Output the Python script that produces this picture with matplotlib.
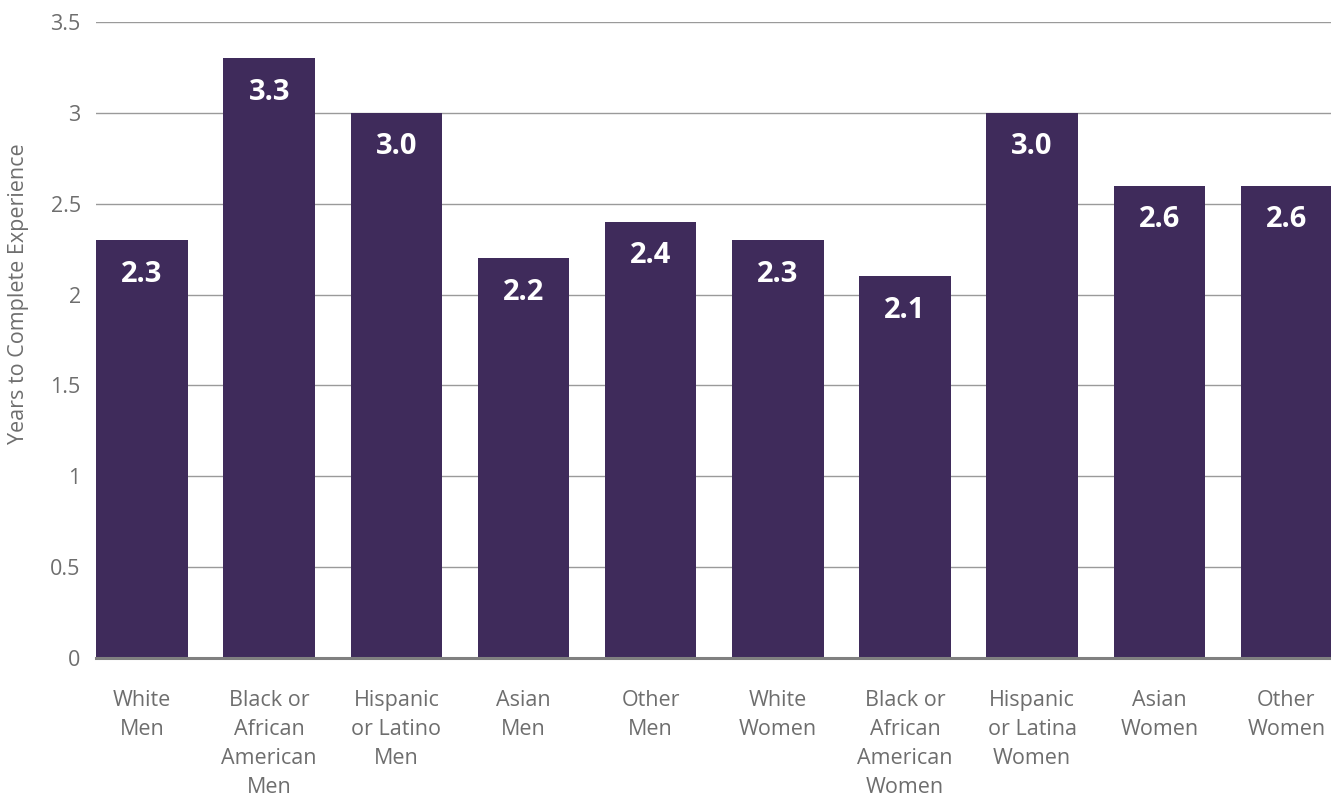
import matplotlib
matplotlib.use("Agg")
import matplotlib.pyplot as plt

categories = ["White\nMen", "Black or\nAfrican\nAmerican\nMen", "Hispanic\nor Latino\nMen", "Asian\nMen",
              "Other\nMen", "White\nWomen", "Black or\nAfrican\nAmerican\nWomen", "Hispanic\nor Latina\nWomen",
              "Asian\nWomen", "Other\nWomen"]
values = [2.3, 3.3, 3.0, 2.2, 2.4, 2.3, 2.1, 3.0, 2.6, 2.6]
yticks = [0, 0.5, 1, 1.5, 2, 2.5, 3, 3.5]
ytick_labels = ["0", "0.5", "1", "1.5", "2", "2.5", "3", "3.5"]

plt.rcParams['font.family'] = ['Open Sans', 'DejaVu Sans']
bar_color = "#3F2B5B"
text_gray = "#6E6E6E"

fig = plt.figure(figsize=(13.31, 7.98), dpi=100)
ax = fig.add_axes([96/1331, 1 - 658/798, 1 - 96/1331, (658 - 22)/798])

x = list(range(len(values)))
ax.bar(x, values, width=0.72, color=bar_color, zorder=3)
for xi, v in zip(x, values):
    ax.annotate(f"{v:.1f}", (xi, v), xytext=(0, -14), textcoords="offset points",
                ha="center", va="top", color="white", fontsize=21, fontweight="bold", zorder=4)

ax.set_xlim(-0.362, len(values) - 1 + 0.35)
ax.set_ylim(0, 3.5)
ax.set_yticks(yticks)
ax.set_yticklabels(ytick_labels)
ax.set_xticks(x)
ax.set_xticklabels(categories, linespacing=1.5)
ax.tick_params(axis="both", length=0, colors=text_gray, labelsize=15.5)
ax.tick_params(axis="x", pad=23)
ax.tick_params(axis="y", pad=11)
for lab in ax.get_xticklabels():
    lab.set_verticalalignment("top")

ax.yaxis.grid(True, color="#9A9A9A", linewidth=1, zorder=0)
for s in ["top", "right", "left"]:
    ax.spines[s].set_visible(False)
ax.spines["bottom"].set_color("#808080")
ax.spines["bottom"].set_linewidth(2.2)
ax.spines["bottom"].set_zorder(5)

fig.text(19/1331, 1 - 294/798, "Years to Complete Experience", rotation=90, ha="center", va="center",
         color=text_gray, fontsize=15.5)

fig.savefig("out.png", dpi=100)
